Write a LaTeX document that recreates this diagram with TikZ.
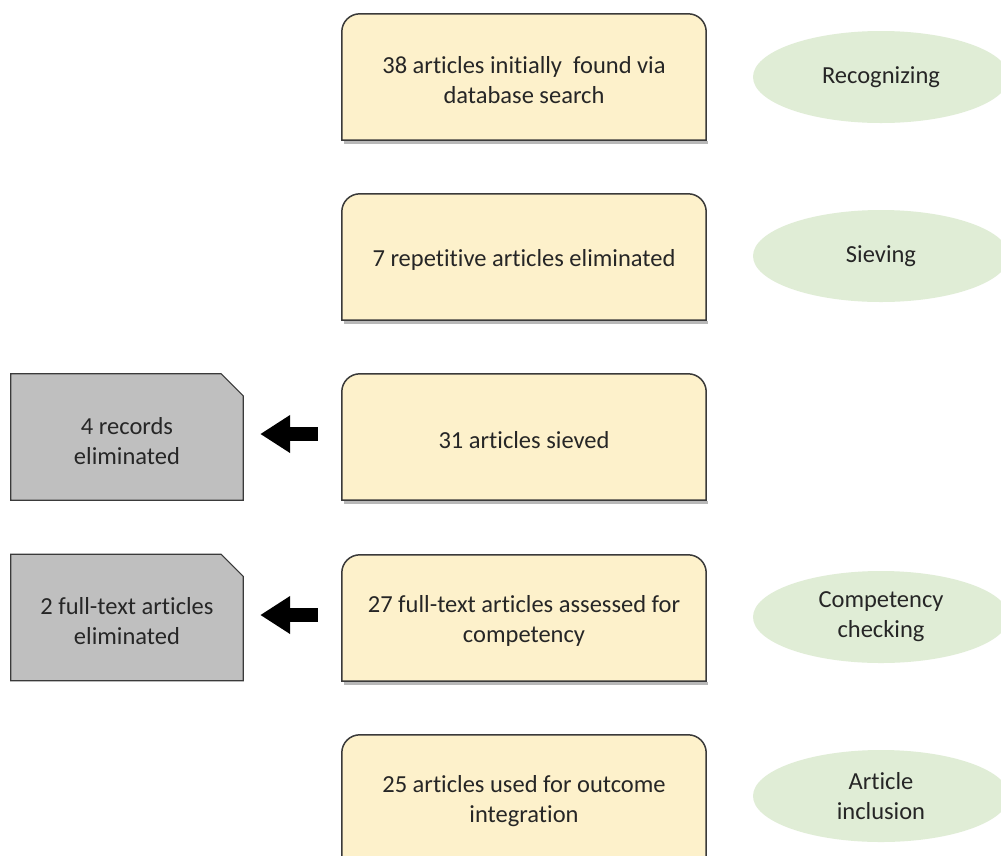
\documentclass[tikz,border=0pt]{standalone}
\usepackage{fontspec}
\setmainfont{Carlito}[Ligatures=CommonOff, RawFeature={-liga;-clig;-calt}]
\usetikzlibrary{shapes.geometric,arrows.meta,backgrounds}
\definecolor{yellowf}{HTML}{FDF1CB}
\definecolor{greenf}{HTML}{E0EDD6}
\definecolor{grayf}{HTML}{BFBFBF}
\definecolor{bordc}{HTML}{3A3A3A}
\definecolor{textc}{HTML}{262626}
% outline drawn 3pt above node box so that the text sits slightly low, as in the reference
\newcommand\yellowoutline[1]{%
  \draw[black!28, line width=3pt] ([xshift=2pt,yshift=0.5pt]#1.south west) -- ([xshift=2pt,yshift=0.5pt]#1.south east);
  \draw[ybord] ([yshift=3pt]#1.south west) -- ([yshift=-15pt]#1.north west)
    arc[start angle=180,end angle=90,radius=18pt] -- ([xshift=-18pt,yshift=3pt]#1.north east)
    arc[start angle=90,end angle=0,radius=18pt] -- ([yshift=3pt]#1.south east) -- cycle;}
\newcommand\grayoutline[1]{%
  \draw[gbord] ([yshift=4pt]#1.south west) -- ([yshift=4pt]#1.north west) -- ([xshift=-22pt,yshift=4pt]#1.north east)
    -- ([yshift=-18pt]#1.north east) -- ([yshift=4pt]#1.south east) -- cycle;}
\begin{document}
\begin{tikzpicture}[x=1pt,y=1pt,
  txt/.style={font=\fontsize{24.5}{30}\selectfont, text=textc, align=center},
  ybox/.style={txt, minimum width=364pt, minimum height=126pt, inner sep=0pt},
  gbox/.style={txt, minimum width=232pt, minimum height=126pt, inner sep=0pt},
  phase/.style={ellipse, fill=greenf, txt, minimum width=256pt, minimum height=92pt, inner sep=0pt},
  ybord/.style={fill=yellowf, draw=bordc, line width=1.5pt},
  gbord/.style={fill=grayf, draw=bordc, line width=1.2pt},
  bigarrow/.style={draw=black, line width=14pt, -{Triangle[length=30pt,width=36pt]}}
]
\clip (0,0) rectangle (1001,-855);

\node[ybox] (b1) at (524,-80) {38 articles initially\ \ found via\\database search};
\node[ybox] (b2) at (524,-260) {7 repetitive articles eliminated};
\node[ybox] (b3) at (524,-440) {31 articles sieved};
\node[ybox] (b4) at (524,-621) {27 full-text articles assessed for\\competency};
\node[ybox] (b5) at (524,-801) {25 articles used for outcome\\integration};

\node[gbox] (g1) at (127,-441) {4 records\\eliminated};
\node[gbox] (g2) at (127,-621.5) {2 full-text articles\\eliminated};

\node[phase] (e1) at (881,-77) {Recognizing};
\node[phase] (e2) at (881,-256) {Sieving};
\node[phase] (e3) at (881,-617) {Competency\\checking};
\node[phase] (e4) at (881,-796) {Article\\inclusion};

\begin{scope}[on background layer]
\fill[white] (0,0) rectangle (1001,-855);
\yellowoutline{b1}
\yellowoutline{b2}
\yellowoutline{b3}
\yellowoutline{b4}
\yellowoutline{b5}
\grayoutline{g1}
\grayoutline{g2}
\end{scope}

\draw[bigarrow] ([xshift=-24pt,yshift=6pt]b3.west) -- ([xshift=17pt,yshift=7pt]g1.east);
\draw[bigarrow] ([xshift=-24pt,yshift=6pt]b4.west) -- ([xshift=17pt,yshift=6.5pt]g2.east);
\end{tikzpicture}
\end{document}
